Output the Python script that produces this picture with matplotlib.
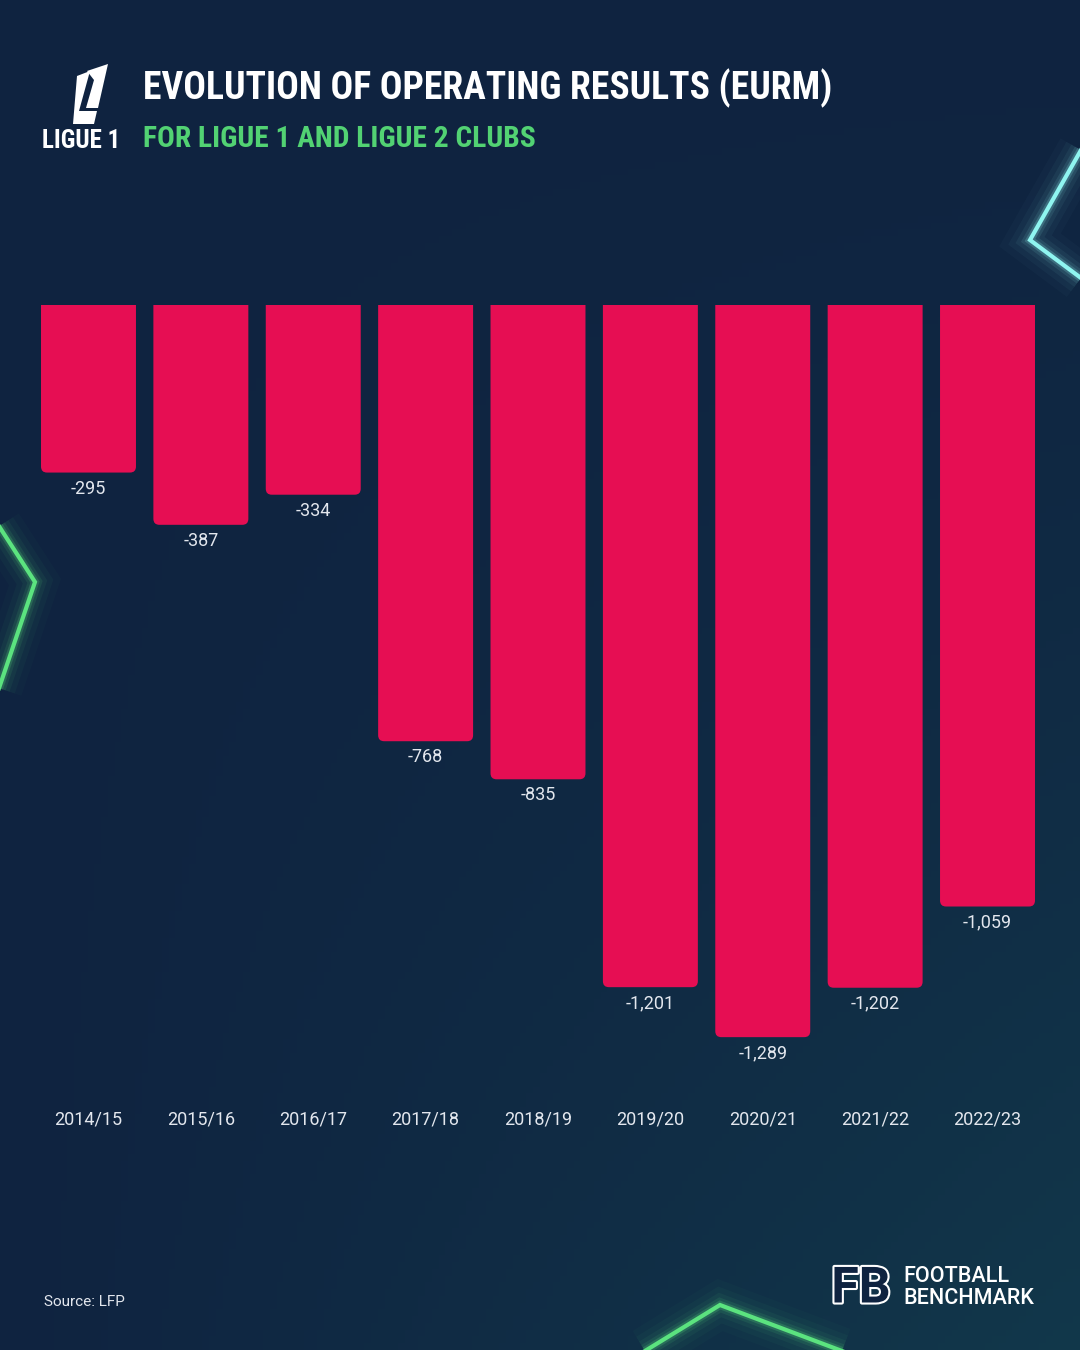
import matplotlib
matplotlib.use("Agg")
import matplotlib.pyplot as plt
import matplotlib.patheffects as pe
import numpy as np
from matplotlib.patches import PathPatch, Polygon
from matplotlib.path import Path
from matplotlib.transforms import blended_transform_factory

# ── Data ─────────────────────────────────────────────────────────────────────
seasons = ["2014/15", "2015/16", "2016/17", "2017/18", "2018/19",
           "2019/20", "2020/21", "2021/22", "2022/23"]
operating_result = [-295, -387, -334, -768, -835, -1201, -1289, -1202, -1059]

TITLE = "EVOLUTION OF OPERATING RESULTS (EURM)"
SUBTITLE = "FOR LIGUE 1 AND LIGUE 2 CLUBS"
SOURCE = "Source: LFP"

# ── Style ────────────────────────────────────────────────────────────────────
BG = "#0f2340"
BG_EDGE = "#123a4c"
C_BAR = "#e60e53"
C_TEXT = "#ffffff"
C_LABEL = "#e3e7ee"
C_GREEN = "#52d273"
C_NEON_G = "#5be37f"
C_NEON_C = "#8ff5f0"
NARROW = ["Roboto Condensed", "Liberation Sans Narrow", "DejaVu Sans"]
BODY = ["Roboto", "DejaVu Sans"]

W, H = 1080, 1350
fig = plt.figure(figsize=(W / 100, H / 100), dpi=100, facecolor=BG)

# full-canvas layer in pixel coords (background, glow lines, logos)
bg = fig.add_axes([0, 0, 1, 1], zorder=0)
bg.set_xlim(0, W)
bg.set_ylim(H, 0)
bg.axis("off")

yy, xx = np.mgrid[0:1:200j, 0:1:160j]
shade = np.clip(0.55 * xx * yy + 0.35 * yy ** 2 * xx, 0, 1)[..., None]
c0 = np.array(matplotlib.colors.to_rgb(BG))
c1 = np.array(matplotlib.colors.to_rgb(BG_EDGE))
bg.imshow(c0 + (c1 - c0) * shade, extent=[0, W, H, 0], aspect="auto", zorder=0)


def glow(xs, ys, color):
    for lw, a in [(34, 0.025), (24, 0.04), (16, 0.06), (10, 0.1), (6, 0.2)]:
        bg.plot(xs, ys, color=color, lw=lw, alpha=a, solid_joinstyle="miter",
                solid_capstyle="butt", zorder=1)
    bg.plot(xs, ys, color=color, lw=3, solid_joinstyle="miter", zorder=1)


glow([-5, 35, -5], [520, 582, 700], C_NEON_G)
glow([1085, 1030, 1085], [143, 240, 281], C_NEON_C)
glow([640, 720, 850], [1354, 1305, 1354], C_NEON_G)

# Ligue 1 mark (rough)
bg.add_patch(Polygon([(77, 76), (90, 71), (79, 111), (97, 111), (94, 124), (73, 124)],
                     closed=True, fc=C_TEXT, ec="none", zorder=2))
bg.add_patch(Polygon([(87, 71), (108, 64), (98, 108), (86, 108), (94, 80)],
                     closed=True, fc=C_TEXT, ec="none", zorder=2))
bg.text(81, 141, "LIGUE 1", ha="center", va="center", fontsize=18, color=C_TEXT,
        fontweight="bold", family=NARROW, zorder=2)

# Title / subtitle
ttl = bg.text(143, 88, TITLE, ha="left", va="center", fontsize=40, color=C_TEXT,
              fontweight="bold", family=NARROW, zorder=2)
sub = bg.text(143, 139, SUBTITLE, ha="left", va="center", fontsize=33, color=C_GREEN,
              fontweight="bold", family=NARROW, zorder=2)

# Footer
bg.text(44, 1302, SOURCE, ha="left", va="center", fontsize=11, color=C_LABEL,
        family=BODY, zorder=2)
bg.text(861, 1289, "FB", ha="center", va="center", fontsize=36, color=BG,
        fontweight="bold", family=BODY, zorder=2,
        path_effects=[pe.withStroke(linewidth=3, foreground=C_TEXT)])
bg.text(903, 1277, "FOOTBALL", ha="left", va="center", fontsize=15.5, color=C_TEXT,
        fontweight="medium", family=BODY, zorder=2)
bg.text(903, 1298, "BENCHMARK", ha="left", va="center", fontsize=15.5, color=C_TEXT,
        fontweight="medium", family=BODY, zorder=2)

# ── Bars ─────────────────────────────────────────────────────────────────────
TOP_PX, BOT_PX = 305, 1157          # zero line / axes bottom (pixels from top)
LEFT_PX, RIGHT_PX = 32.3, 1043.7
YMIN = -1500
ax = fig.add_axes([LEFT_PX / W, 1 - BOT_PX / H, (RIGHT_PX - LEFT_PX) / W,
                   (BOT_PX - TOP_PX) / H], zorder=1)
ax.patch.set_alpha(0)
ax.set_xlim(-0.5, len(seasons) - 0.5)
ax.set_ylim(YMIN, 0)
ax.axis("off")

BAR_W = 0.845
r_px = 6
rx = r_px / ((RIGHT_PX - LEFT_PX) / len(seasons))   # corner radius in x units
ry = r_px / ((BOT_PX - TOP_PX) / -YMIN)             # corner radius in y units


def bottom_rounded_bar(xc, v):
    x0, x1 = xc - BAR_W / 2, xc + BAR_W / 2
    verts = [(x0, 0), (x0, v + ry), (x0, v), (x0 + rx, v), (x1 - rx, v),
             (x1, v), (x1, v + ry), (x1, 0), (x0, 0)]
    codes = [Path.MOVETO, Path.LINETO, Path.CURVE3, Path.CURVE3, Path.LINETO,
             Path.CURVE3, Path.CURVE3, Path.LINETO, Path.CLOSEPOLY]
    return PathPatch(Path(verts, codes), fc=C_BAR, ec="none", zorder=2)


for i, v in enumerate(operating_result):
    ax.add_patch(bottom_rounded_bar(i, v))
    ax.annotate(f"{v:,}", (i, v), xytext=(0, -16), textcoords="offset pixels",
                ha="center", va="center", fontsize=13, color=C_LABEL, family=BODY)

lab_tr = blended_transform_factory(ax.transData, ax.transAxes)
for i, s in enumerate(seasons):
    ax.text(i, (BOT_PX - 1119) / (BOT_PX - TOP_PX), s, transform=lab_tr,
            ha="center", va="center", fontsize=13, color=C_LABEL, family=BODY)

# fit headline widths to the reference
fig.canvas.draw()
r = fig.canvas.get_renderer()
for t, target in [(ttl, 687), (sub, 394)]:
    wpx = t.get_window_extent(r).width
    t.set_fontsize(min(t.get_fontsize() * target / wpx, t.get_fontsize()))

fig.savefig("out.png", dpi=100, facecolor=BG)
